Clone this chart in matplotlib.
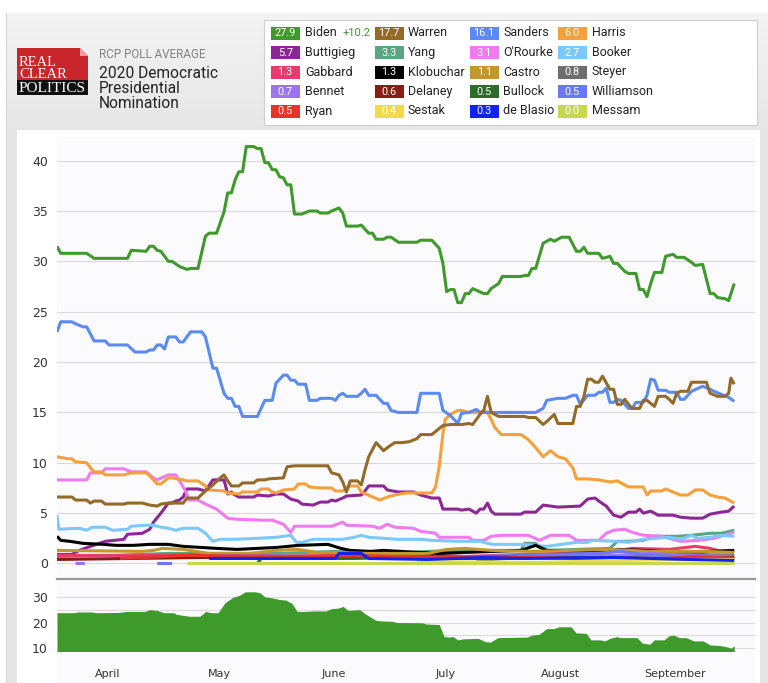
import numpy as np
import matplotlib
matplotlib.use("Agg")
import matplotlib.pyplot as plt
import matplotlib.dates as mdates
from matplotlib.patches import Rectangle, Polygon

# RCP poll average, points are (days after 18 Mar 2019, percent)
biden = [(0, 31.5), (1, 30.8), (8, 30.8), (10, 30.3), (19, 30.3), (20, 31.1), (24, 31.0), (25, 31.5), (26, 31.5),
         (27, 31.1), (28, 31.0), (30, 30.0), (31, 30.0), (33, 29.5), (35, 29.2), (36, 29.3), (38, 29.3), (40, 32.5),
         (41, 32.8), (43, 32.8), (45, 34.9), (46, 36.8), (47, 36.8), (48, 38.1), (49, 38.9), (50, 38.9), (51, 41.4),
         (53, 41.4), (54, 41.2), (55, 41.2), (56, 39.8), (57, 39.8), (58, 39.1), (59, 39.1), (60, 38.4), (61, 38.3),
         (62, 37.6), (63, 37.6), (64, 34.7), (66, 34.7), (68, 35.0), (70, 35.0), (71, 34.8), (73, 34.8), (74, 35.0),
         (76, 35.3), (77, 34.8), (78, 33.5), (81, 33.5), (82, 33.6), (84, 32.8), (85, 32.8), (86, 32.2), (88, 32.2),
         (89, 32.4), (90, 32.4), (92, 31.9), (97, 31.9), (98, 32.1), (101, 32.1), (103, 31.3), (104, 29.8), (105, 27.0),
         (106, 27.2), (107, 27.2), (108, 25.9), (109, 25.9), (110, 26.8), (111, 26.8), (112, 27.3), (115, 26.8),
         (116, 26.8), (117, 27.3), (119, 27.8), (120, 28.5), (125, 28.5), (126, 28.6), (127, 28.6), (128, 29.3),
         (129, 29.3), (131, 31.8), (133, 32.2), (134, 32.0), (136, 32.4), (138, 32.4), (140, 31.0), (141, 31.0),
         (142, 31.4), (143, 30.8), (146, 30.8), (147, 30.3), (149, 30.5), (150, 29.8), (151, 29.8), (153, 29.0),
         (154, 28.8), (156, 28.8), (157, 27.2), (158, 27.2), (159, 26.5), (160, 27.8), (161, 28.9), (163, 28.9),
         (164, 30.5), (166, 30.7), (167, 30.4), (169, 30.4), (171, 29.9), (172, 29.6), (174, 29.7), (176, 26.8),
         (177, 26.8), (178, 26.4), (180, 26.3), (181, 26.1), (182.5, 27.8)]
warren = [(0, 6.6), (4, 6.6), (5, 6.3), (8, 6.3), (9, 6.0), (10, 6.2), (12, 6.2), (13, 5.9), (18, 5.9), (19, 6.0),
          (23, 6.0), (25, 5.8), (27, 5.7), (28, 5.9), (30, 6.0), (34, 6.0), (35, 6.5), (38, 6.5), (40, 7.2), (42, 7.8),
          (44, 8.5), (45, 8.8), (46, 8.2), (47, 7.7), (49, 7.7), (50, 8.0), (53, 8.0), (54, 8.3), (56, 8.3), (57, 8.4),
          (61, 8.5), (62, 9.6), (64, 9.7), (73, 9.7), (74, 9.0), (75, 8.9), (76, 8.8), (77, 8.1), (78, 7.1), (79, 8.2),
          (81, 8.2), (82, 7.8), (83, 9.3), (84, 10.6), (86, 12.0), (88, 11.2), (89, 11.5), (91, 12.0), (93, 12.0),
          (95, 12.1), (97, 12.4), (98, 12.8), (101, 12.8), (104, 13.7), (106, 13.8), (109, 13.8), (111, 13.9),
          (112, 13.8), (114, 14.8), (115, 15.2), (116, 16.6), (117, 15.0), (119, 14.6), (126, 14.6), (127, 14.5),
          (129, 14.5), (131, 13.8), (132, 14.1), (134, 14.8), (135, 13.9), (139, 13.9), (140, 15.6), (141, 15.6),
          (142, 16.6), (143, 18.3), (144, 18.3), (145, 18.0), (146, 18.0), (147, 18.6), (149, 17.3), (150, 17.3),
          (151, 15.8), (152, 15.8), (153, 16.3), (154, 15.8), (155, 15.4), (157, 15.4), (158, 16.2), (159, 16.2),
          (161, 15.6), (162, 16.6), (164, 16.6), (165, 16.3), (166, 15.9), (167, 16.9), (168, 17.1), (170, 17.1),
          (171, 18.0), (175, 18.0), (176, 16.9), (178, 16.6), (180, 16.6), (181, 16.9), (181.6, 18.4), (182.5, 17.8)]
sanders = [(0, 23.0), (1, 24.0), (4, 24.0), (5, 23.8), (7, 23.5), (8, 23.5), (10, 22.1), (13, 22.1), (14, 21.7),
           (19, 21.7), (21, 21.0), (24, 21.0), (25, 21.2), (26, 21.2), (27, 21.7), (28, 21.7), (29, 21.3), (30, 22.5),
           (32, 22.5), (33, 22.0), (34, 22.0), (36, 23.0), (39, 23.0), (40, 22.5), (42, 19.4), (43, 19.4), (45, 16.9),
           (46, 16.4), (47, 16.4), (48, 15.6), (49, 15.6), (50, 14.6), (54, 14.6), (56, 16.2), (58, 16.2), (59, 17.9),
           (61, 18.7), (62, 18.7), (63, 18.2), (64, 18.2), (65, 17.8), (67, 17.8), (68, 16.2), (70, 16.2), (71, 16.4),
           (74, 16.4), (75, 16.2), (76, 16.7), (77, 16.9), (78, 16.6), (81, 16.6), (82, 16.9), (83, 17.3), (84, 16.7),
           (86, 16.7), (88, 15.9), (89, 15.9), (90, 15.2), (92, 15.0), (97, 15.0), (98, 16.9), (103, 16.9), (104, 15.2),
           (106, 14.7), (108, 13.9), (109, 14.9), (111, 15.0), (113, 15.3), (114, 15.0), (129, 15.0), (131, 15.4),
           (132, 16.2), (135, 16.4), (137, 16.4), (139, 16.7), (140, 16.7), (141, 15.8), (143, 16.7), (145, 16.7),
           (146, 17.0), (147, 17.0), (148, 17.4), (149, 16.0), (150, 16.0), (151, 16.3), (152, 16.2), (154, 15.4),
           (155, 15.4), (156, 16.0), (158, 16.0), (159, 16.7), (160, 18.3), (161, 18.2), (162, 17.2), (164, 17.2),
           (165, 17.0), (167, 17.0), (168, 16.3), (169, 16.3), (171, 17.1), (174, 17.6), (176, 17.3), (177, 17.1),
           (179, 16.8), (181, 16.5), (182.5, 16.1)]
harris = [(0, 10.6), (3, 10.4), (4, 10.4), (5, 10.1), (8, 10.0), (9, 9.5), (10, 9.1), (12, 9.1), (13, 8.8), (18, 8.8),
          (20, 9.0), (24, 9.0), (25, 8.7), (27, 7.9), (28, 7.9), (30, 8.5), (31, 8.5), (34, 8.3), (35, 8.2), (38, 8.2),
          (40, 7.7), (41, 7.3), (45, 7.2), (46, 7.0), (49, 6.9), (50, 7.1), (54, 7.1), (55, 7.4), (57, 7.4), (58, 7.1),
          (59, 7.0), (61, 7.3), (64, 7.4), (65, 7.9), (67, 7.9), (68, 7.6), (71, 7.5), (74, 7.5), (75, 7.2), (77, 7.2),
          (79, 7.7), (81, 7.7), (82, 7.1), (87, 6.3), (89, 6.6), (91, 6.8), (94, 7.0), (101, 7.0), (102, 7.6),
          (103, 9.6), (104, 12.9), (104.6, 14.3), (106, 14.8), (108, 15.2), (109, 15.2), (111, 15.0), (114, 15.0),
          (115, 15.2), (116, 15.0), (117, 14.3), (118, 13.5), (119.7, 12.8), (125, 12.8), (127, 12.3), (129, 11.5),
          (131, 10.6), (133, 11.2), (135, 10.6), (137, 10.4), (139, 9.5), (140, 8.4), (143, 8.4), (146, 8.3),
          (149, 8.1), (151, 8.2), (152, 8.0), (154, 7.6), (158, 7.6), (159, 6.8), (160, 7.2), (163, 7.2), (164, 7.4),
          (168, 6.8), (170, 6.8), (172, 7.3), (174, 7.3), (176, 6.8), (178, 6.6), (180, 6.5), (182.5, 6.0)]
buttigieg = [(0, 0.9), (4, 0.9), (6, 1.3), (9, 1.7), (13, 2.2), (18, 2.4), (19, 2.9), (23, 3.0), (25, 3.4), (26, 4.1),
             (28, 5.0), (30, 6.0), (31, 6.0), (32, 6.2), (33, 6.3), (34, 6.6), (35, 7.4), (38, 7.4), (40, 7.2),
             (42, 8.3), (45, 8.3), (46, 6.9), (47, 7.1), (47.5, 6.9), (49, 6.6), (53, 6.6), (54, 6.8), (57, 6.7),
             (59, 6.9), (61, 6.9), (63, 6.4), (65, 6.2), (66, 5.9), (69, 5.8), (71, 6.1), (73, 6.1), (74, 6.3),
             (75, 6.2), (77, 6.5), (78, 6.7), (82, 6.8), (83, 7.2), (84, 7.7), (88, 7.7), (89, 7.3), (92, 7.1),
             (96, 7.1), (98, 6.8), (101, 6.5), (103, 6.5), (104, 5.4), (108, 5.4), (109, 5.3), (111, 5.4), (113, 5.0),
             (114, 5.4), (115, 5.4), (116, 6.0), (117, 5.2), (118, 4.9), (125, 4.9), (126, 5.1), (129, 5.1), (131, 5.8),
             (133, 5.7), (135, 5.6), (141, 5.7), (143, 6.4), (145, 6.5), (146, 6.2), (148, 5.7), (150, 4.8), (152, 4.6),
             (154, 5.1), (156, 5.1), (157, 5.4), (158, 5.0), (160, 5.2), (162, 4.8), (166, 4.8), (168, 4.6), (171, 4.5),
             (174, 4.5), (176, 4.9), (179, 5.1), (181, 5.2), (182.5, 5.7)]
yang = [(0, 0.7), (15, 0.8), (30, 1.0), (60, 1.0), (75, 1.2), (90, 1.0), (100, 1.2), (110, 1.3), (125, 1.3),
        (126, 2.0), (129, 2.0), (130, 1.6), (132, 1.3), (149, 1.5), (151, 2.2), (154, 2.2), (158, 2.3), (161, 2.7),
        (167, 2.7), (171, 2.8), (176, 3.0), (179, 3.0), (182.5, 3.3)]
orourke = [(0, 8.3), (8, 8.3), (9, 9.0), (12, 9.0), (13, 9.4), (18, 9.4), (20, 9.1), (24, 9.1), (26, 8.5), (27, 8.3),
           (30, 8.8), (32, 8.8), (34, 7.6), (35, 6.9), (35.5, 6.3), (38, 6.3), (40, 5.9), (43, 5.4), (45, 4.8),
           (46, 4.5), (48, 4.4), (55, 4.3), (58, 4.3), (61, 3.9), (63, 3.1), (64, 3.7), (74, 3.7), (77, 4.1), (78, 3.8),
           (85, 3.7), (87, 3.5), (89, 3.9), (91, 3.6), (96, 3.5), (98, 3.2), (102, 3.0), (103, 2.6), (111, 2.6),
           (112, 2.3), (115, 2.3), (117, 2.7), (120, 2.8), (127, 2.8), (130, 2.3), (133, 2.8), (138, 2.8), (140, 2.3),
           (146, 2.3), (148, 3.0), (150, 3.3), (153, 3.4), (155, 3.1), (158, 2.8), (163, 2.7), (168, 2.2), (173, 2.3),
           (177, 2.5), (182.5, 3.1)]
booker = [(0, 4.8), (0.5, 3.4), (6, 3.5), (8, 3.3), (9.5, 3.6), (13, 3.6), (15, 3.3), (19, 3.4), (20, 3.7), (24, 3.8),
          (26, 3.8), (28, 3.6), (30, 3.5), (32, 3.3), (34, 3.5), (38, 3.5), (40, 3.0), (42, 2.2), (44, 2.4), (48, 2.4),
          (54, 2.5), (59, 2.6), (63, 2.8), (64.5, 2.1), (66, 2.1), (69, 2.4), (77, 2.4), (80, 2.6), (82, 2.8),
          (84, 2.6), (88, 2.5), (92, 2.4), (98, 2.4), (101, 2.3), (108, 2.2), (114, 2.2), (116, 2.0), (117.5, 1.9),
          (125, 1.9), (132, 1.7), (140, 2.1), (143, 2.1), (144, 2.3), (151, 2.2), (154, 2.1), (158, 2.4), (165, 2.6),
          (168, 2.4), (171, 2.8), (172.5, 2.5), (176, 2.6), (179, 2.8), (182.5, 2.7)]
gabbard = [(0, 0.8), (20, 0.8), (40, 0.9), (60, 0.7), (80, 0.8), (100, 0.8), (110, 0.7), (125, 0.9), (135, 1.0),
           (145, 0.9), (155, 1.5), (165, 1.4), (172, 1.7), (176, 1.5), (179, 1.2), (182.5, 1.3)]
klobuchar = [(0, 2.7), (1, 2.3), (3.5, 2.2), (7, 2.0), (12.5, 1.9), (16, 1.8), (20.5, 1.8), (25, 1.9), (30, 1.9),
             (34, 1.7), (38.5, 1.6), (43, 1.5), (48.5, 1.4), (54, 1.5), (59.5, 1.6), (65, 1.8), (73, 1.9), (76.5, 1.5),
             (79, 1.3), (84.5, 1.2), (88, 1.3), (92.5, 1.2), (103, 1.0), (110, 1.1), (125, 1.3), (129, 1.8),
             (132, 1.3), (147, 1.2), (151, 1.4), (158, 1.3), (171, 1.0), (176, 1.2), (182.5, 1.3)]
castro = [(0, 1.3), (23, 1.2), (26, 1.3), (28.5, 1.5), (34, 1.4), (41, 1.0), (52, 1.0), (59, 1.3), (65, 1.4),
          (70, 1.1), (85, 1.0), (100, 1.0), (105, 1.4), (110, 1.5), (117, 1.3), (128, 1.2), (149, 1.4), (160, 1.2),
          (175, 1.2), (182.5, 1.1)]
steyer = [(113, 0.3), (125, 0.6), (140, 0.7), (155, 0.8), (170, 0.9), (182.5, 0.8)]
bennet = [(5, 0.0), (7.5, 0.0), (8, np.nan), (44, 0.8), (70, 0.7), (100, 0.5), (125, 0.8), (145, 0.7), (160, 1.0),
          (170, 0.8), (182.5, 0.7)]
delaney = [(0, 0.4), (20, 0.5), (40, 0.6), (60, 0.5), (80, 0.6), (100, 0.5), (120, 0.5), (140, 0.6), (160, 0.5),
           (182.5, 0.6)]
bullock = [(52, 0.0), (54, 0.0), (55, 0.5), (80, 0.5), (100, 0.7), (125, 0.6), (150, 0.5), (182.5, 0.5)]
williamson = [(27, 0.0), (31, 0.0), (32, np.nan), (95, 0.5), (125, 0.8), (145, 1.0), (152, 1.2), (158, 0.9),
              (170, 0.6), (182.5, 0.5)]
ryan = [(17, 0.5), (35, 0.8), (60, 0.7), (80, 0.8), (100, 0.6), (120, 0.7), (140, 0.5), (160, 0.4), (172, 0.7),
        (182.5, 0.5)]
sestak = [(97, 0.2), (130, 0.1), (150, 0.3), (170, 0.4), (182.5, 0.4)]
deblasio = [(41, 0.5), (75, 0.5), (76, 1.0), (82, 1.0), (84, 0.5), (100, 0.4), (115, 0.6), (125, 0.5), (150, 0.6),
            (170, 0.4), (182.5, 0.3)]
messam = [(35, 0.0), (182.5, 0.0)]

# navigator strip at the bottom
navigator = [(0, 23.9), (4.5, 23.9), (5.7, 24.2), (9.2, 24.2), (10.6, 23.9), (16.4, 24.0), (19, 24.4), (23.7, 24.4),
             (25, 25.1), (27, 24.8), (28.8, 23.9), (31.5, 23.9), (32, 23.3), (35.6, 22.5), (38.5, 22.5), (40.1, 24.4),
             (41.5, 23.9), (43.4, 23.9), (45.3, 27.9), (47.4, 30.0), (49.3, 30.9), (50.7, 32.2), (53.4, 32.2),
             (54.7, 31.8), (56, 30.2), (57.9, 29.8), (59.8, 29.2), (61.7, 28.9), (63.3, 27.6), (64.7, 24.4),
             (66.6, 24.4), (69.3, 24.6), (72.5, 24.6), (73.9, 25.5), (75.7, 25.7), (77.1, 26.4), (78.4, 24.8),
             (81.6, 25.1), (83, 23.5), (85.9, 20.9), (87.6, 20.6), (90.3, 20.5), (91.6, 20.0), (98.4, 19.9),
             (99.5, 19.4), (103, 19.2), (104.3, 14.4), (105.7, 14.2), (106.7, 14.4), (108, 13.1), (109.4, 13.5),
             (113.5, 13.7), (115.4, 12.4), (116.7, 12.2), (118.9, 14.0), (126.7, 14.2), (128, 15.0), (129.9, 15.3),
             (132, 17.6), (133.9, 17.6), (135.3, 18.3), (138.5, 18.3), (139.9, 15.9), (142.6, 15.7), (143.9, 13.1),
             (146.4, 13.1), (147.7, 12.7), (149, 13.7), (150.9, 14.4), (151.8, 14.0), (156.3, 14.0), (157.7, 11.8),
             (159.8, 11.4), (160.9, 13.1), (163.6, 13.1), (164.9, 14.7), (166.3, 15.0), (167.6, 14.0), (169.5, 14.0),
             (171.6, 12.7), (174.1, 12.7), (176, 11.1), (178.9, 10.8), (180.9, 10.2), (181.7, 9.8), (182.5, 10.8)]

names = ["Biden", "Warren", "Sanders", "Harris", "Buttigieg", "Yang", "O'Rourke", "Booker",
         "Gabbard", "Klobuchar", "Castro", "Steyer", "Bennet", "Delaney", "Bullock", "Williamson",
         "Ryan", "Sestak", "de Blasio", "Messam"]
latest = [27.9, 17.7, 16.1, 6.0, 5.7, 3.3, 3.1, 2.7, 1.3, 1.3, 1.1, 0.8, 0.7, 0.6, 0.5, 0.5, 0.5, 0.4, 0.3, 0.0]
colors = ["#3f9a2c", "#946a28", "#5a8af2", "#f5a03c", "#8e2796", "#5aa582", "#f07af0", "#7cc8fa",
          "#e93a6e", "#000000", "#c4962e", "#6e6e6e", "#9b74f0", "#8b1c14", "#2e6a2a", "#6a78f2",
          "#e8322a", "#f0dc48", "#1422ee", "#c8d84e"]
lead = "+10.2"
series = [biden, warren, sanders, harris, buttigieg, yang, orourke, booker, gabbard, klobuchar,
          castro, steyer, bennet, delaney, bullock, williamson, ryan, sestak, deblasio, messam]

W, H = 768, 683
day0 = mdates.date2num(np.datetime64("2019-03-18T08:00"))


def box(l, t, r, b):
    return [l / W, 1 - b / H, (r - l) / W, (b - t) / H]


fig = plt.figure(figsize=(W / 100, H / 100), dpi=100, facecolor="white")

# page, header and legend drawn in pixel coordinates
bg = fig.add_axes([0, 0, 1, 1])
bg.set_xlim(0, W)
bg.set_ylim(H, 0)
bg.axis("off")
bg.add_patch(Rectangle((6, 13), W - 6, H - 13, fc="#e5e5e5", ec="#d5d5d5", lw=0.8))
grad = np.linspace(0.955, 0.905, 50)[:, None] * np.ones((1, 2))
bg.imshow(np.dstack([grad, grad, grad]), extent=(6.5, W, 128, 13.5), aspect="auto", zorder=1)
bg.add_patch(Rectangle((17, 130), 743, H - 130, fc="white", ec="none", zorder=2))
bg.add_patch(Rectangle((57, 137), 698, H - 137, fc="#fbfbfd", ec="none", zorder=2))

# logo
bg.add_patch(Polygon([(17, 48), (80, 48), (88, 56), (88, 80), (17, 80)], closed=True, fc="#c8262a", ec="none", zorder=3))
bg.add_patch(Polygon([(80, 48), (80, 56), (88, 56)], closed=True, fc="#e8a0a0", ec="none", zorder=3))
bg.add_patch(Rectangle((17, 80), 71, 15, fc="#111111", ec="none", zorder=3))
serif = "Liberation Serif"
bg.text(19, 62, "REAL", color="white", family=serif, fontsize=10.5, va="center", zorder=4)
bg.text(19, 75, "CLEAR", color="white", family=serif, fontsize=10.5, va="center", zorder=4)
bg.text(18.5, 88.5, "POLITICS", color="white", family=serif, fontsize=11, va="center", zorder=4)

bg.text(99, 55, "RCP POLL AVERAGE", color="#808080", family="Roboto", fontsize=8.4, va="center", zorder=4)
for i, line in enumerate(["2020 Democratic", "Presidential", "Nomination"]):
    bg.text(99, 73 + 15.2 * i, line, color="#222222", family="Roboto", fontsize=11.2, va="center", zorder=4)

# legend with latest averages
bg.add_patch(Rectangle((264, 20), 493, 105, fc="white", ec="#cfcfcf", lw=0.8, zorder=3))
badge_x = [271, 375, 470, 558]
name_x = [305, 408, 503, 592]
for i, (nm, val, col) in enumerate(zip(names, latest, colors)):
    r, c = divmod(i, 4)
    y = 33 + 19.5 * r
    bg.add_patch(Rectangle((badge_x[c], y - 6.5), 28.5, 13, fc=col, ec="none", zorder=4))
    bg.text(badge_x[c] + 14.2, y + 0.3, f"{val:.1f}", color="white", family="Roboto", fontsize=7.8,
            ha="center", va="center", zorder=5)
    bg.text(name_x[c], y, nm, color="#222222", family="Roboto", fontsize=9, va="center", zorder=5)
bg.text(343, 33, lead, color="#3a9a2a", family="Roboto", fontsize=8, va="center", zorder=5)

# main chart
ax = fig.add_axes(box(57, 137, 755, 579))
ax.set_facecolor("none")
for i, pts in enumerate(series):
    d = np.array([p[0] for p in pts], dtype=float)
    v = np.array([p[1] for p in pts], dtype=float)
    ax.plot(day0 + d, v, color=colors[i], lw=2.2, solid_joinstyle="round", solid_capstyle="butt",
            zorder=3 + len(series) - i if i < 4 else 3 + i)
ax.set_xlim(day0, day0 + 188.1)
ax.set_ylim(-1.54, 42.35)
ax.set_yticks(range(0, 41, 5))
ax.grid(axis="y", color="#dadada", lw=0.8)
ax.set_axisbelow(True)
ax.tick_params(axis="y", length=0, pad=6.5, labelsize=9, labelcolor="#333333")
ax.set_xticks([])
for s in ["top", "left", "right"]:
    ax.spines[s].set_visible(False)
ax.spines["bottom"].set_color("#999999")
ax.spines["bottom"].set_linewidth(1.6)

# navigator
nav = fig.add_axes(box(57, 580, 755, 650.7))
nav.set_facecolor("none")
nd = np.array([p[0] for p in navigator])
nv = np.array([p[1] for p in navigator])
nav.fill_between(day0 + nd, nv, 0, color="#3f9a2c", lw=0, zorder=3)
nav.set_xlim(day0, day0 + 188.1)
nav.set_ylim(8.8, 36.9)
nav.set_yticks([10, 20, 30])
nav.set_yticks([15, 25], minor=True)
nav.grid(axis="y", which="both", color="#dadada", lw=0.8)
nav.set_axisbelow(True)
nav.tick_params(axis="y", which="both", length=0, pad=6.5, labelsize=9, labelcolor="#333333")
nav.xaxis.set_major_locator(mdates.MonthLocator())
nav.xaxis.set_major_formatter(mdates.DateFormatter("%B"))
nav.tick_params(axis="x", length=0, pad=13, labelsize=8, labelcolor="#333333")
for s in nav.spines.values():
    s.set_visible(False)

fig.savefig("out.png", dpi=100, facecolor=fig.get_facecolor())
